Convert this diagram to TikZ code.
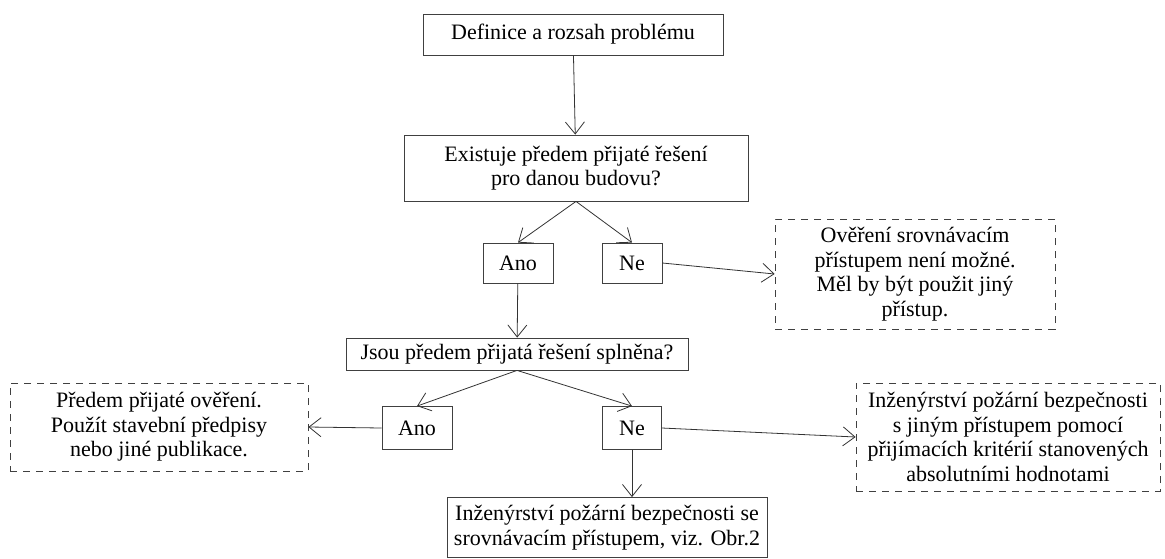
\documentclass[tikz,border=0pt]{standalone}
\usepackage{fontspec}
\setmainfont{Liberation Serif}
\usepackage{tikz}
\usetikzlibrary{arrows.meta,positioning,calc}

\begin{document}
\begin{tikzpicture}[>={Straight Barb[length=12pt,width=19pt]}, x=1pt, y=-1pt,
    box/.style={draw=black!75, line width=0.8pt, inner sep=0pt, align=center,
        font=\fontsize{22}{24.5}\selectfont},
    dashbox/.style={box, dash pattern=on 7pt off 6pt},
    link/.style={->, draw=black!80, line width=0.8pt}]
\useasboundingbox (0,0) rectangle (1165,558);

\node[box, minimum width=300, minimum height=41] (def) at (573,34.5) {Definice a rozsah problému};
\node[box, minimum width=344, minimum height=66] (exist) at (576,168) {Existuje předem přijaté řešení\\pro danou budovu?};
\node[box, minimum width=70, minimum height=40] (ano1) at (518,263) {Ano};
\node[box, minimum width=60, minimum height=40] (ne1) at (632,263) {Ne};
\node[dashbox, minimum width=280, minimum height=110] (jiny) at (915,274) {Ověření srovnávacím\\ přístupem není možné.\\Měl by být použit jiný\\ přístup.};

\node[box, minimum width=342, minimum height=32] (splneno) at (517,354) {Jsou předem přijatá řešení splněna?};
\node[box, minimum width=70, minimum height=43] (ano2) at (417,428) {Ano};
\node[box, minimum width=59, minimum height=43] (ne2) at (632,428) {Ne};
\node[dashbox, minimum width=298, minimum height=88] (predpisy) at (159,427) {Předem přijaté ověření.\\Použít stavební předpisy\\nebo jiné publikace.};
\node[dashbox, minimum width=304, minimum height=108] (absolut) at (1008,437) {Inženýrství požární bezpečnosti\\s jiným přístupem pomocí\\přijímacích kritérií stanovených\\absolutními hodnotami};
\node[box, minimum width=320, minimum height=60] (srovn) at (607,527.5) {Inženýrství požární bezpečnosti se\\srovnávacím přístupem, viz. Obr.2};

% connectors
\draw[link] (def) -- (exist);
\draw[link] (exist.south) -- (ano1.north);
\draw[link] (exist.south) -- (ne1.north);
\draw[link] (ne1.east) -- (jiny.west);
\draw[link] (ano1) -- (splneno);
\draw[link] (splneno.south) -- (ano2.north);
\draw[link] (splneno.south) -- (ne2.north);
\draw[link] (ano2.west) -- (predpisy.east);
\draw[link] (ne2.east) -- (absolut.west);
\draw[link] (ne2.south) -- (ne2.south |- srovn.north);
\end{tikzpicture}
\end{document}
